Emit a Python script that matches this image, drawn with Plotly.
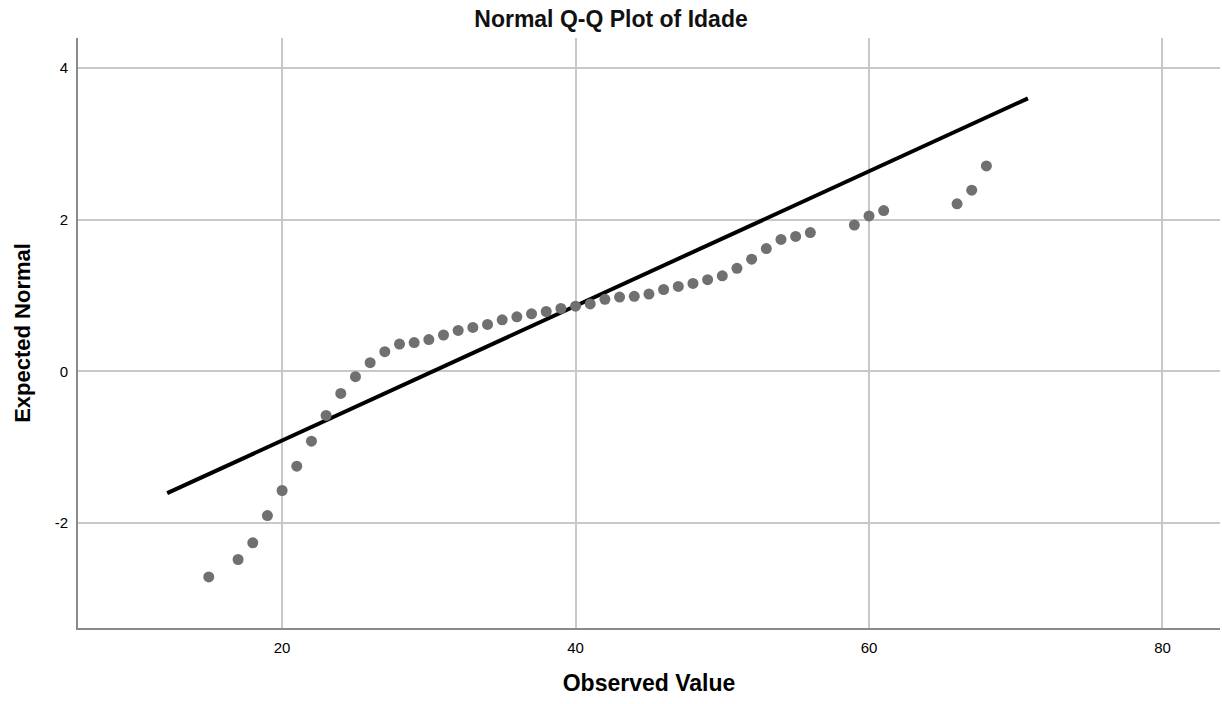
import plotly.graph_objects as go

# Observed ages and their expected normal quantiles
observed = [15, 17, 18, 19, 20, 21, 22, 23, 24, 25, 26, 27, 28, 29, 30, 31, 32, 33,
            34, 35, 36, 37, 38, 39, 40, 41, 42, 43, 44, 45, 46, 47, 48, 49, 50, 51,
            52, 53, 54, 55, 56, 59, 60, 61, 66, 67, 68]
expected = [-2.71, -2.48, -2.26, -1.90, -1.57, -1.25, -0.92, -0.58, -0.29, -0.07,
            0.115, 0.26, 0.36, 0.38, 0.42, 0.48, 0.54, 0.58, 0.62, 0.68, 0.72, 0.76,
            0.79, 0.83, 0.86, 0.89, 0.95, 0.98, 0.99, 1.02, 1.08, 1.12, 1.16, 1.21,
            1.26, 1.36, 1.48, 1.62, 1.74, 1.78, 1.83, 1.93, 2.05, 2.12, 2.21, 2.39, 2.71]

# Reference line endpoints
line_x = [12.17, 70.83]
line_y = [-1.605, 3.60]

x_ticks = [20, 40, 60, 80]
y_ticks = [-2, 0, 2, 4]

FONT = "Arial, 'Liberation Sans', sans-serif"

fig = go.Figure()
fig.add_trace(go.Scatter(
    x=line_x, y=line_y, mode="lines",
    line=dict(color="#000000", width=4),
    hoverinfo="skip", showlegend=False,
))
fig.add_trace(go.Scatter(
    x=observed, y=expected, mode="markers",
    marker=dict(color="#707070", size=11, line=dict(width=0)),
    showlegend=False,
))

fig.update_layout(
    width=1222, height=704,
    paper_bgcolor="white", plot_bgcolor="white",
    margin=dict(l=78, r=2, t=38, b=76),
    font=dict(family=FONT, color="#000000"),
    title=dict(text="<b>Normal Q-Q Plot of Idade</b>", x=0.5, xref="container",
               xanchor="center", y=1 - 19 / 704, yanchor="middle",
               font=dict(size=23, family=FONT, color="#111111")),
)

fig.update_xaxes(
    range=[6.09, 83.92], tickvals=x_ticks, ticktext=[str(v) for v in x_ticks],
    showgrid=True, gridcolor="#c8c8c8", gridwidth=1.5,
    zeroline=False, showline=True, linecolor="#8a8a8a", linewidth=2,
    ticks="", tickfont=dict(size=15, family=FONT, color="#000000"),
    ticklabelstandoff=5,
    title=dict(text="<b>Observed Value</b>", standoff=20,
               font=dict(size=23, family=FONT, color="#000000")),
)
fig.update_yaxes(
    range=[-3.383, 4.396], tickvals=y_ticks, ticktext=[str(v) for v in y_ticks],
    showgrid=True, gridcolor="#c8c8c8", gridwidth=1.5,
    zeroline=False, showline=True, linecolor="#8a8a8a", linewidth=2,
    ticks="", tickfont=dict(size=15, family=FONT, color="#000000"),
    ticklabelstandoff=5,
    title=dict(text="<b>Expected Normal</b>", standoff=18,
               font=dict(size=22, family=FONT, color="#000000")),
)

fig.write_html("out.html")
